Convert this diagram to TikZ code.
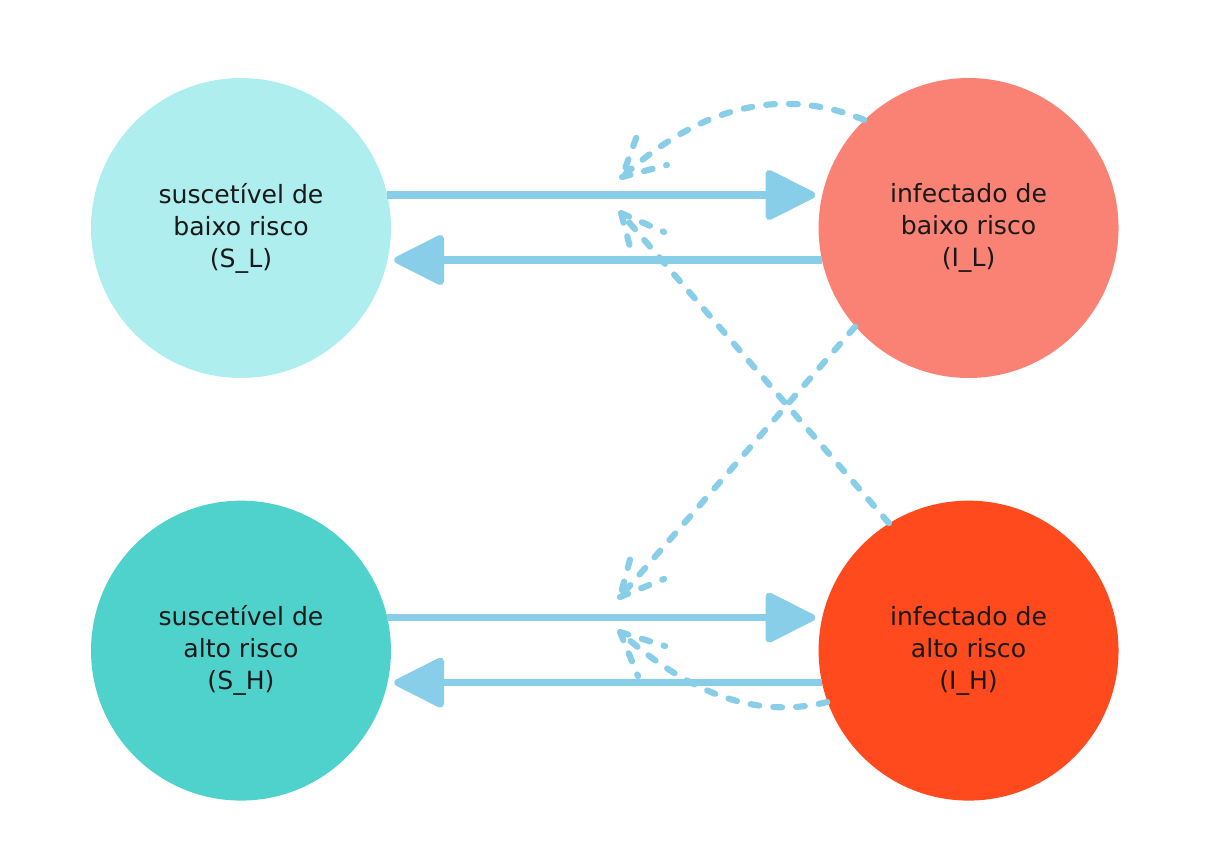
\documentclass[tikz,border=0pt]{standalone}
\usepackage{fontspec}
\setmainfont{DejaVu Sans}
\usetikzlibrary{positioning,arrows.meta}
\definecolor{lowsus}{HTML}{AFEEEE}
\definecolor{lowinf}{HTML}{F98274}
\definecolor{highsus}{HTML}{4FD2CC}
\definecolor{highinf}{HTML}{FF4A1E}
\definecolor{edgeblue}{HTML}{89CEE9}
\tikzset{compartment/.style={shape=circle, minimum size=6cm, inner sep=0pt, align=center, text=black!90, font=\fontsize{14.3pt}{18.2pt}\selectfont},
         flow/.style={draw=edgeblue, line width=4.2pt, -{Triangle[length=31pt,width=30pt,round]}, shorten >=4pt},
         influence/.style={draw=edgeblue, line width=3.5pt, line cap=round, line join=round, dash pattern=on 5pt off 8pt}}

\begin{document}
\begin{tikzpicture}[x=0.02cm, y=-0.02cm, node distance=2.44cm and 8.54cm]
\useasboundingbox (0,0) rectangle (1228,856);
\node[compartment, fill=lowsus] (SL) at (241,228) {suscetível de\\baixo risco\\(S\_L)};
\node[compartment, fill=lowinf, right=of SL] (IL) {infectado de\\baixo risco\\(I\_L)};
\node[compartment, fill=highsus, below=of SL] (SH) {suscetível de\\alto risco\\(S\_H)};
\node[compartment, fill=highinf, below=of IL] (IH) {infectado de\\alto risco\\(I\_H)};

\draw[flow] ([shift={(-4,-33)}]SL.east) -- ([shift={(4,-33)}]IL.west);
\draw[flow] ([shift={(4,32)}]IL.west) -- ([shift={(-4,32)}]SL.east);
\draw[flow] ([shift={(-4,-33)}]SH.east) -- ([shift={(4,-33)}]IH.west);
\draw[flow] ([shift={(4,32)}]IH.west) -- ([shift={(-4,32)}]SH.east);

\coordinate (onLfromL) at (622,177);
\coordinate (onLfromH) at (621,213);
\coordinate (onHfromL) at (620,597);
\coordinate (onHfromH) at (620,632);

\draw[influence] (IL.134) .. controls (781,86) and (701,106) .. (onLfromL) -- ++(16,-44) (onLfromL) -- ++(45,-12);
\draw[influence] (IH.122) -- (onLfromH) -- ++(12,45) (onLfromH) -- ++(43,19);
\draw[influence] (IL.221.5) -- (onHfromL) -- ++(12,-45) (onHfromL) -- ++(44,-18);
\draw[influence] (IH.200) .. controls (757,719) and (691,695) .. (onHfromH) -- ++(18,44) (onHfromH) -- ++(45,14);
\end{tikzpicture}
\end{document}
